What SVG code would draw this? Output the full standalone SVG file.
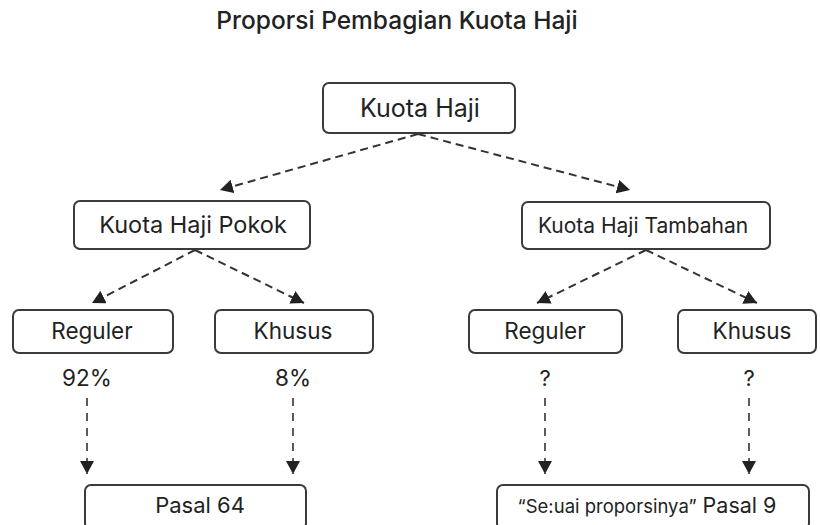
<svg xmlns="http://www.w3.org/2000/svg" width="820" height="525" viewBox="0 0 820 525">
<defs>
<style>
.box{fill:#fff;stroke:#3a3a3a;stroke-width:2}
.t{font-family:Inter,"Open Sans","Liberation Sans",sans-serif;fill:#222;text-anchor:middle}
.c{stroke:#333;stroke-width:2;stroke-dasharray:8 5;fill:none}
.v{stroke:#333;stroke-width:1.6;stroke-dasharray:8 7;fill:none}
</style>
<marker id="ah" viewBox="-13 -7 13 14" refX="0" refY="0" markerWidth="13" markerHeight="14" markerUnits="userSpaceOnUse" orient="auto">
<path d="M-13,-7 L0,0 L-13,7 z" fill="#222"/>
</marker>
</defs>
<rect width="820" height="525" fill="#fff"/>
<text class="t" x="397" y="29" font-size="24.5" font-weight="500">Proporsi Pembagian Kuota Haji</text>

<g id="connectors">
<path class="c" d="M418,134 L220,190" marker-end="url(#ah)"/>
<path class="c" d="M418,134 L630,190" marker-end="url(#ah)"/>
<path class="c" d="M195,250 L92,303" marker-end="url(#ah)"/>
<path class="c" d="M195,250 L304,303" marker-end="url(#ah)"/>
<path class="c" d="M646,250 L537,303" marker-end="url(#ah)"/>
<path class="c" d="M646,250 L757,303" marker-end="url(#ah)"/>
<path class="v" d="M87,398 L87,474" marker-end="url(#ah)"/>
<path class="v" d="M293,398 L293,474" marker-end="url(#ah)"/>
<path class="v" d="M545,398 L545,474" marker-end="url(#ah)"/>
<path class="v" d="M749,398 L749,474" marker-end="url(#ah)"/>
</g>

<g id="kuota-haji">
<rect class="box" x="323" y="83" width="192" height="50" rx="6"/>
<text class="t" x="420" y="117" font-size="25">Kuota Haji</text>
</g>
<g id="kuota-haji-pokok">
<rect class="box" x="74" y="201" width="236" height="48" rx="6"/>
<text class="t" x="193" y="233" font-size="23.5">Kuota Haji Pokok</text>
</g>
<g id="kuota-haji-tambahan">
<rect class="box" x="522" y="202" width="248" height="47" rx="6"/>
<text class="t" x="643" y="233" font-size="21">Kuota Haji Tambahan</text>
</g>
<g id="reguler-pokok">
<rect class="box" x="13" y="310" width="160" height="43" rx="6"/>
<text class="t" x="92" y="339" font-size="22.5">Reguler</text>
</g>
<g id="khusus-pokok">
<rect class="box" x="215" y="310" width="158" height="43" rx="6"/>
<text class="t" x="293" y="339" font-size="22.5">Khusus</text>
</g>
<g id="reguler-tambahan">
<rect class="box" x="469" y="310" width="153" height="43" rx="6"/>
<text class="t" x="545" y="339" font-size="22.5">Reguler</text>
</g>
<g id="khusus-tambahan">
<rect class="box" x="678" y="310" width="138" height="43" rx="6"/>
<text class="t" x="752" y="339" font-size="22.5">Khusus</text>
</g>
<g id="labels">
<text class="t" x="87" y="386" font-size="22.5">92%</text>
<text class="t" x="293" y="386" font-size="22.5">8%</text>
<text class="t" x="545" y="386" font-size="22">?</text>
<text class="t" x="749" y="386" font-size="22">?</text>
</g>
<g id="pasal-64">
<rect class="box" x="85" y="485" width="221" height="44" rx="6"/>
<text class="t" x="200" y="513" font-size="22">Pasal 64</text>
</g>
<g id="pasal-9">
<rect class="box" x="497" y="485" width="312" height="44" rx="6"/>
<text class="t" x="647" y="513"><tspan font-size="18.5">“Se:uai proporsinya”</tspan><tspan font-size="21.5"> Pasal 9</tspan></text>
</g>
</svg>
